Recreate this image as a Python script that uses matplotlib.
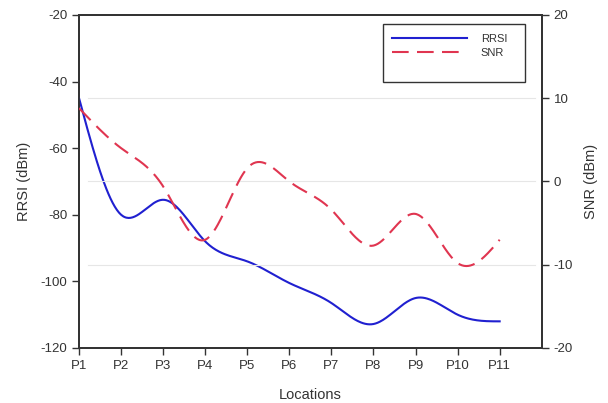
import numpy as np
import matplotlib
matplotlib.use('Agg')
import matplotlib.pyplot as plt
from matplotlib.lines import Line2D
from matplotlib.patches import Rectangle

plt.rcParams['font.family'] = ['Liberation Sans', 'DejaVu Sans']
plt.rcParams['axes.unicode_minus'] = False

# Datos
locations = ['P1', 'P2', 'P3', 'P4', 'P5', 'P6', 'P7', 'P8', 'P9', 'P10', 'P11']
rrsi = [-45, -80, -75.5, -88, -94, -100.5, -106.5, -112.8, -105, -110, -112]
snr = [8.8, 4.0, -0.6, -7.0, 1.6, 0.0, -3.4, -7.7, -3.9, -9.8, -7.0]


# Spline natural para suavizar la linea (como el grafico original)
def smooth(y, n=40):
    y = np.asarray(y, dtype=float)
    x = np.arange(len(y), dtype=float)
    k = len(y)
    A = np.zeros((k, k))
    b = np.zeros(k)
    A[0, 0] = 1
    A[-1, -1] = 1
    for i in range(1, k - 1):
        A[i, i - 1] = 1
        A[i, i] = 4
        A[i, i + 1] = 1
        b[i] = 6 * (y[i + 1] - 2 * y[i] + y[i - 1])
    m = np.linalg.solve(A, b)
    xs, ys = [], []
    for i in range(k - 1):
        t = np.linspace(0, 1, n, endpoint=(i == k - 2))
        a = y[i]
        c = y[i + 1] - y[i] - (2 * m[i] + m[i + 1]) / 6
        d = m[i] / 2
        e = (m[i + 1] - m[i]) / 6
        xs.append(x[i] + t)
        ys.append(a + c * t + d * t ** 2 + e * t ** 3)
    return np.concatenate(xs), np.concatenate(ys)


txt = '#333333'
blue = '#2020d0'
red = '#e03550'
dash = (8, 4)

fig, ax1 = plt.subplots(figsize=(6.08, 4.03), dpi=100)
fig.subplots_adjust(left=0.130, right=0.891, top=0.963, bottom=0.1365)
ax2 = ax1.twinx()

# lineas de guia suaves
for v in [10, 0, -10]:
    ax2.axhline(v, xmin=0.02, xmax=0.985, color='#e6e6e6', lw=0.8, zorder=0)

xs, ys = smooth(rrsi)
ax1.plot(xs, ys, color=blue, lw=1.5, zorder=3)
xs, ys = smooth(snr)
ax2.plot(xs, ys, color=red, lw=1.5, dashes=dash, zorder=3)

ax1.set_xlim(0, 11)
ax1.set_ylim(-120, -20)
ax2.set_ylim(-20, 20)
ax1.set_xticks(range(len(locations)))
ax1.set_xticklabels(locations)
ax1.set_yticks(range(-120, -19, 20))
ax2.set_yticks(range(-20, 21, 10))

for ax in (ax1, ax2):
    for s in ax.spines.values():
        s.set_color(txt)
        s.set_linewidth(1.3)
    ax.tick_params(direction='out', length=5, width=1, color=txt,
                   labelcolor=txt, labelsize=9.5)

ax1.set_xlabel('Locations', color=txt, fontsize=10.5, labelpad=12)
ax1.set_ylabel('RRSI (dBm)', color=txt, fontsize=10.5, labelpad=7)
ax2.set_ylabel('SNR (dBm)', color=txt, fontsize=10.5, labelpad=8)

# leyenda con caja
ax2.add_patch(Rectangle((0.657, 0.799), 0.306, 0.174, transform=ax2.transAxes,
                        facecolor='white', edgecolor=txt, lw=1.0, zorder=5))
handles = [Line2D([], [], color=blue, lw=1.5),
           Line2D([], [], color=red, lw=1.5, dashes=dash)]
leg = ax2.legend(handles, ['RRSI', 'SNR'], loc='upper left',
                 bbox_to_anchor=(0.676, 0.942), fontsize=8,
                 handlelength=6.8, handletextpad=1.2, labelspacing=0.3,
                 borderpad=0, borderaxespad=0, frameon=False)
leg.set_zorder(6)
for t in leg.get_texts():
    t.set_color(txt)

fig.savefig('out.png', dpi=100)
